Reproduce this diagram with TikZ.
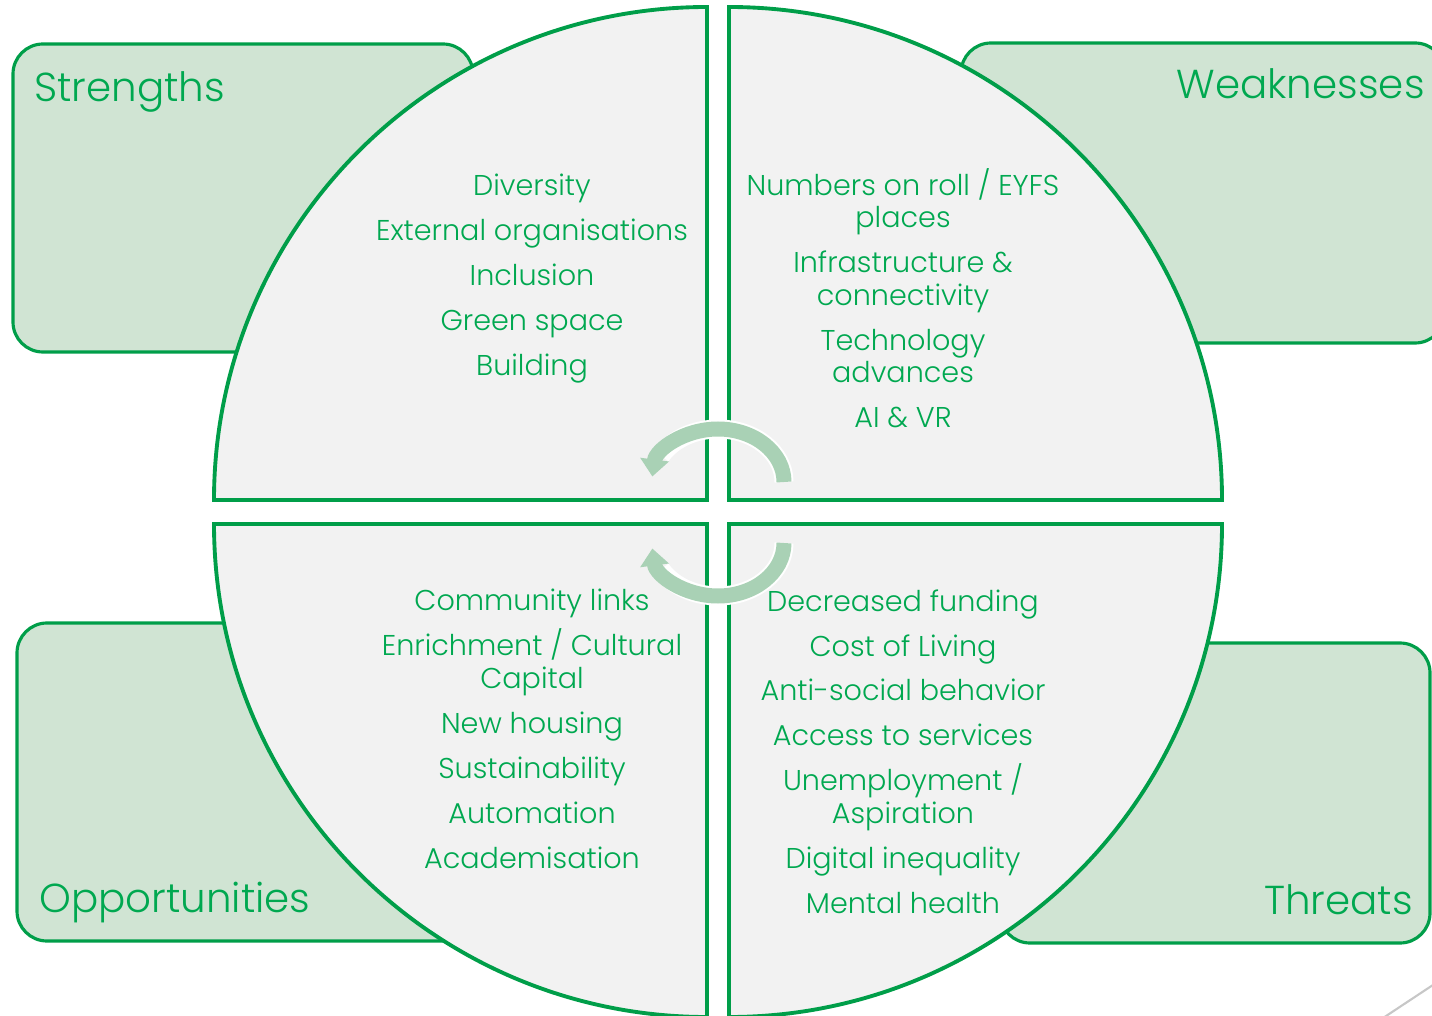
\documentclass[tikz,border=0pt]{standalone}
\usepackage{fontspec}
\IfFontExistsTF{Poppins Light}{\setmainfont{Poppins Light}}{\setmainfont{Poppins}}
\usepackage{xcolor}
\usepackage{tikz}
\usetikzlibrary{
  arrows.meta,
  positioning
}

\definecolor{swotline}{RGB}{0,158,73}
\definecolor{swottext}{RGB}{0,168,80}
\definecolor{boxfill}{RGB}{208,228,211}
\definecolor{quadfill}{RGB}{242,242,242}
\definecolor{turnfill}{RGB}{169,209,181}

\newcommand{\swotgap}{\\[7.1pt]}
\setlength{\lineskiplimit}{-20pt}

\begin{document}
\begin{tikzpicture}[x=0.02cm,y=0.02cm,
  box/.style={draw=swotline,fill=boxfill,line width=1.8pt,rounded corners=0.6cm},
  quad/.style={draw=swotline,fill=quadfill,line width=2.2pt,line join=miter},
  swottitle/.style={text=swottext,inner sep=0pt,font=\fontsize{23}{27}\selectfont},
  swotlist/.style={text=swottext,inner sep=0pt,anchor=north,align=center,font=\fontsize{16.3}{18.5}\selectfont},
  turnhalo/.style={draw=white,line width=0.38cm},
  turn/.style={draw=turnfill,line width=0.3cm,-{Triangle[width=0.56cm,length=0.34cm]}}]
  \useasboundingbox (0,0) rectangle (1432,1015);
  \clip (0,0) rectangle (1432,1015);

  \draw[box] (13,663) rectangle (473,971);
  \draw[box] (961,672) rectangle (1445,972);
  \draw[box] (17,74) rectangle (480,392);
  \draw[box] (1000,72) rectangle (1430,372);

  \coordinate (tl) at (707,515);
  \coordinate (tr) at (729,515);
  \coordinate (bl) at (707,491);
  \coordinate (br) at (729,491);
  \draw[quad] (tl) -- ++(-493,0) arc[start angle=180,end angle=90,radius=493] -- cycle;
  \draw[quad] (tr) -- ++(0,493) arc[start angle=90,end angle=0,radius=493] -- cycle;
  \draw[quad] (bl) -- ++(0,-493) arc[start angle=270,end angle=180,radius=493] -- cycle;
  \draw[quad] (br) -- ++(493,0) arc[start angle=0,end angle=-90,radius=493] -- cycle;

  \node[swottitle,anchor=base west] (s) at (34,913) {Strengths};
  \node[swottitle,anchor=base east] (w) at (1425,916) {Weaknesses};
  \node[swottitle,anchor=base west] (o) at (39,103) {Opportunities};
  \node[swottitle,anchor=base east] (t) at (1413,101) {Threats};

  \node[swotlist] (sl) at (532,841) {Diversity\swotgap External organisations\swotgap Inclusion\swotgap Green space\swotgap Building};
  \node[swotlist] (wl) at (903,847) {Numbers on roll / EYFS\\places\swotgap Infrastructure \&\\connectivity\swotgap Technology\\advances\swotgap AI \& VR};
  \node[swotlist] (ol) at (532,426) {Community links\swotgap Enrichment / Cultural\\Capital\swotgap New housing\swotgap Sustainability\swotgap Automation\swotgap Academisation};
  \node[swotlist] (tl) at (903,426) {Decreased funding\swotgap Cost of Living\swotgap Anti-social behavior\swotgap Access to services\swotgap Unemployment /\\Aspiration\swotgap Digital inequality\swotgap Mental health};

  \coordinate (up) at (718,533);
  \coordinate (dn) at (718,472);
  \draw[turnhalo] (up) ++(66,0) arc[start angle=0,end angle=150,x radius=66,y radius=53];
  \draw[turn] (up) ++(66,0) arc[start angle=0,end angle=174,x radius=66,y radius=53];
  \draw[turnhalo] (dn) ++(66,0) arc[start angle=0,end angle=-150,x radius=66,y radius=53];
  \draw[turn] (dn) ++(66,0) arc[start angle=0,end angle=-174,x radius=66,y radius=53];

  \draw[black!22,line width=1.2pt] (1380,-5) -- (1445,38);
\end{tikzpicture}
\end{document}
